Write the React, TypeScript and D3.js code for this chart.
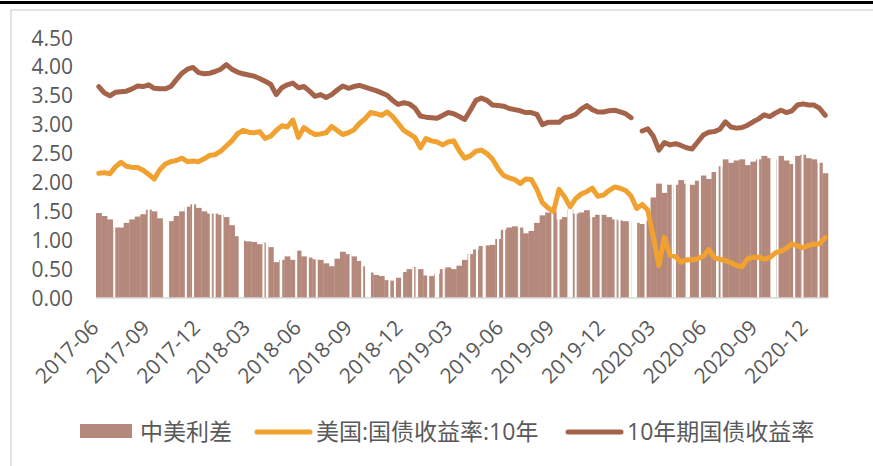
import React from 'react';
import * as d3 from 'd3';

// sampled every 10 days from 2017-06-01
const startDate = new Date(2017, 5, 1);
const endDate = new Date(2021, 0, 11);

// 10年期国债收益率 (null = market closed)
const cnYield: (number | null)[] = [
  3.66, 3.55, 3.50, 3.56, 3.57, 3.58, 3.62, 3.67, 3.66, 3.69,
  3.63, 3.62, 3.62, 3.66, 3.78, 3.89, 3.96, 3.99, 3.90, 3.88,
  3.89, 3.92, 3.96, 4.04, 3.96, 3.91, 3.88, 3.86, 3.84, 3.80,
  3.75, 3.70, 3.52, 3.64, 3.69, 3.72, 3.64, 3.66, 3.58, 3.49,
  3.52, 3.47, 3.52, 3.60, 3.67, 3.63, 3.66, 3.68, 3.65, 3.62,
  3.59, 3.55, 3.51, 3.42, 3.35, 3.38, 3.36, 3.29, 3.15, 3.13,
  3.12, 3.11, 3.16, 3.21, 3.19, 3.14, 3.09, 3.25, 3.42, 3.46,
  3.42, 3.34, 3.33, 3.32, 3.28, 3.26, 3.24, 3.21, 3.21, 3.18,
  3.00, 3.04, 3.04, 3.04, 3.12, 3.14, 3.18, 3.27, 3.33, 3.26,
  3.22, 3.22, 3.24, 3.25, 3.22, 3.19, 3.12, null, 2.89, 2.93,
  2.80, 2.56, 2.69, 2.65, 2.67, 2.64, 2.60, 2.58, 2.70, 2.82,
  2.87, 2.88, 2.92, 3.05, 2.96, 2.94, 2.95, 2.99, 3.05, 3.10,
  3.17, 3.14, 3.20, 3.25, 3.21, 3.24, 3.34, 3.36, 3.34, 3.34,
  3.28, 3.16,
];

// 美国:国债收益率:10年
const usYield: number[] = [
  2.16, 2.17, 2.15, 2.27, 2.35, 2.28, 2.26, 2.26, 2.21, 2.14,
  2.06, 2.22, 2.32, 2.36, 2.38, 2.42, 2.36, 2.37, 2.36, 2.41,
  2.47, 2.48, 2.54, 2.63, 2.72, 2.84, 2.90, 2.87, 2.86, 2.88,
  2.76, 2.80, 2.90, 2.98, 2.96, 3.08, 2.78, 2.95, 2.88, 2.83,
  2.84, 2.86, 2.97, 2.90, 2.83, 2.86, 2.91, 3.02, 3.10, 3.21,
  3.19, 3.16, 3.22, 3.14, 3.02, 2.90, 2.84, 2.78, 2.60, 2.76,
  2.72, 2.70, 2.65, 2.70, 2.72, 2.55, 2.42, 2.46, 2.54, 2.56,
  2.50, 2.40, 2.24, 2.12, 2.08, 2.05, 1.98, 2.06, 2.05, 1.88,
  1.65, 1.56, 1.50, 1.88, 1.75, 1.58, 1.72, 1.80, 1.84, 1.90,
  1.76, 1.78, 1.86, 1.92, 1.90, 1.86, 1.76, 1.55, 1.62, 1.52,
  1.06, 0.56, 1.05, 0.74, 0.72, 0.62, 0.66, 0.66, 0.68, 0.72,
  0.84, 0.70, 0.67, 0.65, 0.61, 0.56, 0.54, 0.68, 0.70, 0.71,
  0.67, 0.70, 0.78, 0.81, 0.86, 0.94, 0.90, 0.87, 0.91, 0.93,
  0.94, 1.05,
];

// 中美利差
const spread: number[] = [
  1.47, 1.42, 1.36, 1.22, 1.22, 1.30, 1.36, 1.41, 1.45, 1.53,
  1.50, 1.38, 1.30, 1.33, 1.42, 1.50, 1.58, 1.62, 1.56, 1.50,
  1.46, 1.46, 1.44, 1.40, 1.26, 1.07, 0.99, 0.98, 0.97, 0.93,
  0.96, 0.88, 0.62, 0.66, 0.72, 0.66, 0.82, 0.72, 0.70, 0.67,
  0.66, 0.60, 0.55, 0.68, 0.80, 0.76, 0.72, 0.64, 0.55, 0.44,
  0.40, 0.38, 0.31, 0.30, 0.35, 0.45, 0.50, 0.54, 0.50, 0.39,
  0.38, 0.42, 0.50, 0.53, 0.50, 0.56, 0.66, 0.76, 0.84, 0.90,
  0.91, 0.92, 1.02, 1.18, 1.22, 1.24, 1.22, 1.12, 1.16, 1.30,
  1.43, 1.48, 1.50, 1.36, 1.40, 1.54, 1.46, 1.48, 1.52, 1.40,
  1.44, 1.44, 1.40, 1.36, 1.34, 1.33, 1.32, 1.30, 1.28, 1.34,
  1.74, 1.98, 1.82, 1.96, 1.96, 2.04, 1.98, 1.96, 2.03, 2.12,
  2.06, 2.18, 2.28, 2.40, 2.34, 2.38, 2.40, 2.30, 2.36, 2.40,
  2.46, 2.42, 2.40, 2.46, 2.38, 2.32, 2.46, 2.48, 2.42, 2.40,
  2.34, 2.16,
];

// days with no spread value (holidays in either market)
const holidays: string[] = [
  '2017-07-04', '2017-09-04', '2017-10-02', '2017-10-03', '2017-10-04', '2017-10-05', '2017-10-06',
  '2017-10-09', '2017-11-10', '2017-11-23', '2017-12-25',
  '2018-01-01', '2018-01-15', '2018-02-15', '2018-02-16', '2018-02-19', '2018-02-20', '2018-02-21',
  '2018-03-30', '2018-04-05', '2018-04-06', '2018-04-30', '2018-05-01', '2018-05-28', '2018-06-18',
  '2018-07-04', '2018-09-03', '2018-09-24', '2018-10-01', '2018-10-02', '2018-10-03', '2018-10-04',
  '2018-10-05', '2018-10-08', '2018-11-12', '2018-11-22', '2018-12-05', '2018-12-25', '2018-12-31',
  '2019-01-01', '2019-01-21', '2019-02-04', '2019-02-05', '2019-02-06', '2019-02-07', '2019-02-08',
  '2019-02-18', '2019-04-05', '2019-04-19', '2019-05-01', '2019-05-02', '2019-05-03', '2019-05-27',
  '2019-06-07', '2019-07-04', '2019-09-02', '2019-09-13', '2019-10-01', '2019-10-02', '2019-10-03',
  '2019-10-04', '2019-10-07', '2019-10-14', '2019-11-11', '2019-11-28', '2019-12-25',
  '2020-01-01', '2020-01-20', '2020-01-24', '2020-01-27', '2020-01-28', '2020-01-29', '2020-01-30',
  '2020-01-31', '2020-02-17', '2020-04-06', '2020-04-10', '2020-05-01', '2020-05-04', '2020-05-05',
  '2020-05-25', '2020-06-25', '2020-06-26', '2020-07-03', '2020-09-07', '2020-10-01', '2020-10-02',
  '2020-10-05', '2020-10-06', '2020-10-07', '2020-10-08', '2020-10-12', '2020-11-11', '2020-11-26',
  '2020-12-25',
];

const tickLabels: string[] = [
  '2017-06', '2017-09', '2017-12', '2018-03', '2018-06', '2018-09', '2018-12', '2019-03',
  '2019-06', '2019-09', '2019-12', '2020-03', '2020-06', '2020-09', '2020-12',
];

const yTicks: number[] = [0, 0.5, 1, 1.5, 2, 2.5, 3, 3.5, 4, 4.5];

const barColor = '#b4887b';
const usColor = '#f0a12f';
const cnColor = '#a5634a';
const textColor = '#595959';
const font = '"Open Sans", "Noto Sans CJK SC", sans-serif';

const App = () => {
  const width = 873;
  const height = 466;

  const x = d3.scaleTime().domain([startDate, endDate]).range([96, 828]);
  const y = d3.scaleLinear().domain([0, 4.5]).range([298, 38]);

  const dates = spread.map((_, i) => d3.timeDay.offset(startDate, i * 10));
  const mid = (d: Date) => x(d3.timeDay.offset(d, 5));

  const parseDay = d3.timeParse('%Y-%m-%d');
  const parseMonth = d3.timeParse('%Y-%m');

  const usLine = d3.line<number>()
    .x((_, i) => mid(dates[i]))
    .y((d) => y(d));

  const cnLine = d3.line<number | null>()
    .defined((d) => d !== null)
    .x((_, i) => mid(dates[i]))
    .y((d) => y(d as number));

  return (
    <svg width={width} height={height} style={{ position: 'absolute', left: 0, top: 0, background: '#fff' }}>
      <rect x={0} y={1} width={width} height={3} fill="#000" />
      <rect x={11} y={10} width={width + 20} height={height + 20} fill="none" stroke="#d9d9d9" strokeWidth={1.5} />

      {/* bars */}
      <g>
        {spread.map((v, i) => {
          const x0 = x(dates[i]);
          const x1 = x(d3.timeDay.offset(dates[i], 10));
          return <rect key={i} x={x0} y={y(v)} width={x1 - x0 + 0.3} height={y(0) - y(v)} fill={barColor} />;
        })}
      </g>
      {/* holiday gaps */}
      <g>
        {holidays.map((h) => {
          const d = parseDay(h) as Date;
          return <rect key={h} x={x(d) - 1} y={y(4.5)} width={2} height={y(0) - y(4.5)} fill="#fff" />;
        })}
      </g>

      <line x1={96} x2={828} y1={y(0)} y2={y(0)} stroke="#d9d9d9" strokeWidth={1.5} />

      {yTicks.map((t) => (
        <text key={t} x={73} y={y(t)} dy="0.36em" textAnchor="end" fontSize={21} fontFamily={font} fill={textColor}>
          {t.toFixed(2)}
        </text>
      ))}

      {tickLabels.map((t) => {
        const tx = x(parseMonth(t) as Date) + 4;
        const ty = 329;
        return (
          <text key={t} x={tx} y={ty} textAnchor="end" fontSize={21} fontFamily={font} fill={textColor}
            transform={`rotate(-45, ${tx}, ${ty})`}>
            {t}
          </text>
        );
      })}

      <path d={usLine(usYield) || ''} fill="none" stroke={usColor} strokeWidth={5} strokeLinejoin="round" strokeLinecap="round" />
      <path d={cnLine(cnYield) || ''} fill="none" stroke={cnColor} strokeWidth={5} strokeLinejoin="round" strokeLinecap="round" />

      {/* legend */}
      <g fontFamily={font} fontSize={23} fill={textColor}>
        <rect x={80} y={424} width={52} height={14} fill={barColor} />
        <text x={140} y={432} dy="0.36em">中美利差</text>
        <line x1={257} x2={310} y1={432} y2={432} stroke={usColor} strokeWidth={5} strokeLinecap="round" />
        <text x={316} y={432} dy="0.36em">美国:国债收益率:10年</text>
        <line x1={568} x2={621} y1={432} y2={432} stroke={cnColor} strokeWidth={5} strokeLinecap="round" />
        <text x={627} y={432} dy="0.36em">10年期国债收益率</text>
      </g>
    </svg>
  );
};

export default App;
